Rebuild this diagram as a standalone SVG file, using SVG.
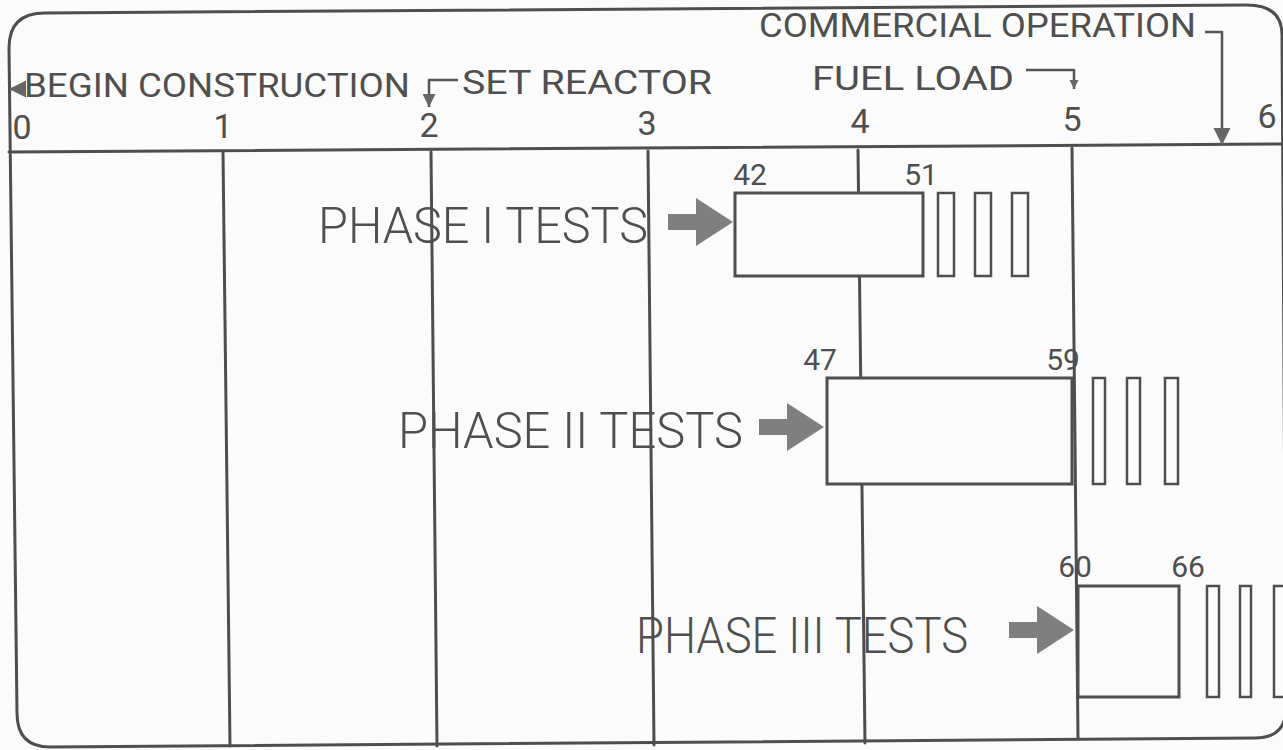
<svg xmlns="http://www.w3.org/2000/svg" width="1283" height="750" viewBox="0 0 1283 750">
  <style>
    .ln{fill:none;stroke:#4e4e4e;stroke-width:3;stroke-linecap:round;stroke-linejoin:round}
    .thin{fill:none;stroke:#555;stroke-width:2.5;stroke-linejoin:round}
    .box{fill:#fbfbfb;stroke:#4e4e4e;stroke-width:3}
    .bar{fill:#fbfbfb;stroke:#4e4e4e;stroke-width:2.5}
    .t{font-family:Roboto,"Liberation Sans",Arial,sans-serif;fill:#4f4f4f;font-weight:300}
    .top{font-size:33px;font-weight:400}
    .dig{font-size:34px;text-anchor:middle;font-weight:400}
    .num{font-size:30px;text-anchor:middle;font-weight:400}
    .ph{font-size:50px}
    .blk{fill:#7f7f7f}
  </style>
  <defs>
    <marker id="ah" viewBox="0 0 10 10" refX="10" refY="5" markerUnits="userSpaceOnUse" markerWidth="13" markerHeight="13" orient="auto">
      <path d="M0,0 L10,5 L0,10 Z" fill="#666"/>
    </marker>
    <marker id="ahs" viewBox="0 0 10 10" refX="10" refY="5" markerUnits="userSpaceOnUse" markerWidth="9" markerHeight="12" orient="auto">
      <path d="M0,0 L10,5 L0,10 Z" fill="#666"/>
    </marker>
    <marker id="ahl" viewBox="0 0 10 10" refX="10" refY="5" markerUnits="userSpaceOnUse" markerWidth="17" markerHeight="18" orient="auto">
      <path d="M0,0 L10,5 L0,10 Z" fill="#666"/>
    </marker>
    <path id="blockArrow" d="M-65,-8 L-37,-8 L-37,-24 L0,0 L-37,24 L-37,8 L-65,8 Z"/>
  </defs>

  <rect x="0" y="0" width="1283" height="750" fill="#fbfbfb"/>

  <g id="frame">
    <path class="ln" d="M9,48 Q9,13 45,13 L1247,5 Q1282,5 1282,35 L1286,708 Q1286,738 1255,738 L50,747 Q17,747 17,713 Z"/>
    <line class="ln" x1="9" y1="152" x2="1282" y2="144"/>
  </g>

  <g id="year-grid">
    <line class="ln" x1="223" y1="152" x2="230" y2="746"/>
    <line class="ln" x1="431" y1="152" x2="437" y2="746"/>
    <line class="ln" x1="648" y1="151" x2="654" y2="745"/>
    <line class="ln" x1="858" y1="150" x2="865" y2="743"/>
    <line class="ln" x1="1072" y1="148" x2="1078" y2="738"/>
  </g>

  <g id="year-labels">
    <text class="t dig" x="22" y="139">0</text>
    <text class="t dig" x="223" y="138">1</text>
    <text class="t dig" x="429" y="137">2</text>
    <text class="t dig" x="647" y="135">3</text>
    <text class="t dig" x="860" y="133">4</text>
    <text class="t dig" x="1072" y="131">5</text>
    <text class="t dig" x="1267" y="128">6</text>
  </g>

  <g id="milestone-begin">
    <text class="t top" x="24" y="97" textLength="386" lengthAdjust="spacingAndGlyphs">BEGIN CONSTRUCTION</text>
  </g>
  <g id="milestone-set-reactor">
    <text class="t top" x="462" y="94" textLength="250" lengthAdjust="spacingAndGlyphs">SET REACTOR</text>
  </g>
  <g id="milestone-fuel-load">
    <text class="t top" x="812" y="90" textLength="202" lengthAdjust="spacingAndGlyphs">FUEL LOAD</text>
  </g>
  <g id="milestone-commercial">
    <text class="t top" x="759" y="37" textLength="437" lengthAdjust="spacingAndGlyphs">COMMERCIAL OPERATION</text>
  </g>

  <g id="phase1">
    <rect class="box" x="735" y="193" width="188" height="83"/>
    <rect class="bar" x="938" y="193" width="16" height="83"/>
    <rect class="bar" x="975" y="193" width="16" height="83"/>
    <rect class="bar" x="1012" y="193" width="16" height="83"/>
    <text class="t ph" x="318" y="243" textLength="330" lengthAdjust="spacingAndGlyphs">PHASE I TESTS</text>
    <text class="t num" x="750" y="185">42</text>
    <text class="t num" x="921" y="185">51</text>
  </g>

  <g id="phase2">
    <rect class="box" x="827" y="378" width="245" height="106"/>
    <rect class="bar" x="1093" y="378" width="12" height="106"/>
    <rect class="bar" x="1127" y="378" width="13" height="106"/>
    <rect class="bar" x="1165" y="378" width="13" height="106"/>
    <text class="t ph" x="398" y="448" textLength="345" lengthAdjust="spacingAndGlyphs">PHASE II TESTS</text>
    <text class="t num" x="820" y="370">47</text>
    <text class="t num" x="1063" y="370">59</text>
  </g>

  <g id="phase3">
    <rect class="box" x="1078" y="586" width="101" height="111"/>
    <rect class="bar" x="1207" y="586" width="12" height="111"/>
    <rect class="bar" x="1240" y="586" width="11" height="111"/>
    <rect class="bar" x="1274" y="586" width="14" height="111"/>
    <text class="t ph" x="636" y="653" textLength="332" lengthAdjust="spacingAndGlyphs">PHASE III TESTS</text>
    <text class="t num" x="1075" y="577">60</text>
    <text class="t num" x="1188" y="577">66</text>
  </g>

  <g id="connectors">
    <polyline class="thin" points="25,89 9,89" marker-end="url(#ahl)"/>
    <polyline class="thin" points="458,80 429,80 429,107" marker-end="url(#ah)"/>
    <polyline class="thin" points="1026,70 1074,70 1074,89" marker-end="url(#ahs)"/>
    <polyline class="thin" points="1205,32 1222,32 1222,145" marker-end="url(#ahl)"/>
    <use href="#blockArrow" class="blk" transform="translate(733,222)"/>
    <use href="#blockArrow" class="blk" transform="translate(824,427)"/>
    <use href="#blockArrow" class="blk" transform="translate(1074,630)"/>
  </g>
</svg>
